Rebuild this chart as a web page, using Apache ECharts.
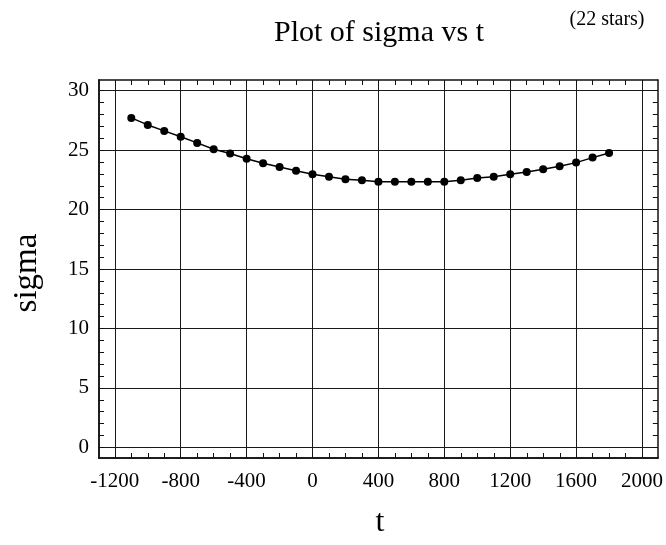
<!DOCTYPE html>
<html><head><meta charset="utf-8">
<script src="https://cdn.jsdelivr.net/npm/echarts@6/dist/echarts.min.js"></script>
<style>html,body{margin:0;padding:0;background:#fff}#c{width:666px;height:545px}</style>
</head><body><div id="c"></div>
<script>
// ---- data ----
const tValues = [-1100,-1000,-900,-800,-700,-600,-500,-400,-300,-200,-100,0,100,200,300,400,500,600,700,800,900,1000,1100,1200,1300,1400,1500,1600,1700,1800];
const sigmaValues = [27.71,27.12,26.62,26.12,25.61,25.08,24.71,24.28,23.89,23.58,23.27,22.98,22.77,22.56,22.47,22.34,22.34,22.34,22.34,22.34,22.47,22.66,22.77,22.97,23.16,23.39,23.64,23.95,24.37,24.76];
const xTickLabels = [-1200,-800,-400,0,400,800,1200,1600,2000];
const yTickLabels = [0,5,10,15,20,25,30];
const xMinorTicks = [-1200,-1100,-1000,-900,-800,-700,-600,-500,-400,-300,-200,-100,0,100,200,300,400,500,600,700,800,900,1000,1100,1200,1300,1400,1500,1600,1700,1800,1900,2000];
const yMinorTicks = [0,1,2,3,4,5,6,7,8,9,10,11,12,13,14,15,16,17,18,19,20,21,22,23,24,25,26,27,28,29,30];
const titleText = 'Plot of sigma vs t';
const noteText = '(22 stars)';
const xName = 't';
const yName = 'sigma';

const FONT = '"Liberation Serif","DejaVu Serif",serif';
const X_MIN = -1296, X_MAX = 2096, Y_MIN = -0.9, Y_MAX = 30.9;
const frameLine = {show:true, onZero:false, lineStyle:{color:'#111', width:1.5}};
const gridRect = {left:99, top:80, width:559, height:378};
const plain = v => String(v);

function minorX(gridIndex, position){
  return {gridIndex, type:'value', position, min:X_MIN, max:X_MAX,
    axisLine:frameLine,
    axisTick:{show:true, inside:true, length:5, customValues:xMinorTicks, lineStyle:{color:'#111', width:1}},
    axisLabel:{show:false}, splitLine:{show:false}};
}
function minorY(gridIndex, position){
  return {gridIndex, type:'value', position, min:Y_MIN, max:Y_MAX,
    axisLine:frameLine,
    axisTick:{show:true, inside:true, length:5, customValues:yMinorTicks, lineStyle:{color:'#111', width:1}},
    axisLabel:{show:false}, splitLine:{show:false}};
}

const chart = echarts.init(document.getElementById('c'), null, {renderer:'canvas'});
chart.setOption({
  backgroundColor:'#fff',
  animation:false,
  grid:[Object.assign({}, gridRect), Object.assign({}, gridRect)],
  xAxis:[
    {gridIndex:0, type:'value', position:'bottom', min:X_MIN, max:X_MAX,
      axisLine:frameLine,
      axisTick:{show:false, customValues:xTickLabels},
      axisLabel:{show:true, customValues:xTickLabels, formatter:plain, margin:13, color:'#000', fontFamily:FONT, fontSize:21},
      splitLine:{show:true, lineStyle:{color:'#1a1a1a', width:1}}},
    minorX(0,'top'),
    minorX(1,'bottom')
  ],
  yAxis:[
    {gridIndex:0, type:'value', position:'left', min:Y_MIN, max:Y_MAX,
      axisLine:frameLine,
      axisTick:{show:false, customValues:yTickLabels},
      axisLabel:{show:true, customValues:yTickLabels, formatter:plain, margin:10, color:'#000', fontFamily:FONT, fontSize:21},
      splitLine:{show:true, lineStyle:{color:'#1a1a1a', width:1}}},
    minorY(0,'right'),
    minorY(1,'left')
  ],
  graphic:[
    {type:'text', x:379, y:33, style:{text:titleText, textAlign:'center', textVerticalAlign:'middle', font:'30px '+FONT, fill:'#000'}},
    {type:'text', x:607, y:20, style:{text:noteText, textAlign:'center', textVerticalAlign:'middle', font:'20px '+FONT, fill:'#000'}},
    {type:'text', x:380, y:523, style:{text:xName, textAlign:'center', textVerticalAlign:'middle', font:'32px '+FONT, fill:'#000'}},
    {type:'text', x:27, y:273, rotation:Math.PI/2, style:{text:yName, textAlign:'center', textVerticalAlign:'middle', font:'33px '+FONT, fill:'#000'}}
  ],
  series:[{
    type:'line', xAxisIndex:0, yAxisIndex:0,
    data:tValues.map((t,i)=>[t, sigmaValues[i]]),
    symbol:'circle', symbolSize:8, showSymbol:true,
    lineStyle:{color:'#000', width:1.5},
    itemStyle:{color:'#000'},
    z:5
  }]
});
</script>
</body></html>
